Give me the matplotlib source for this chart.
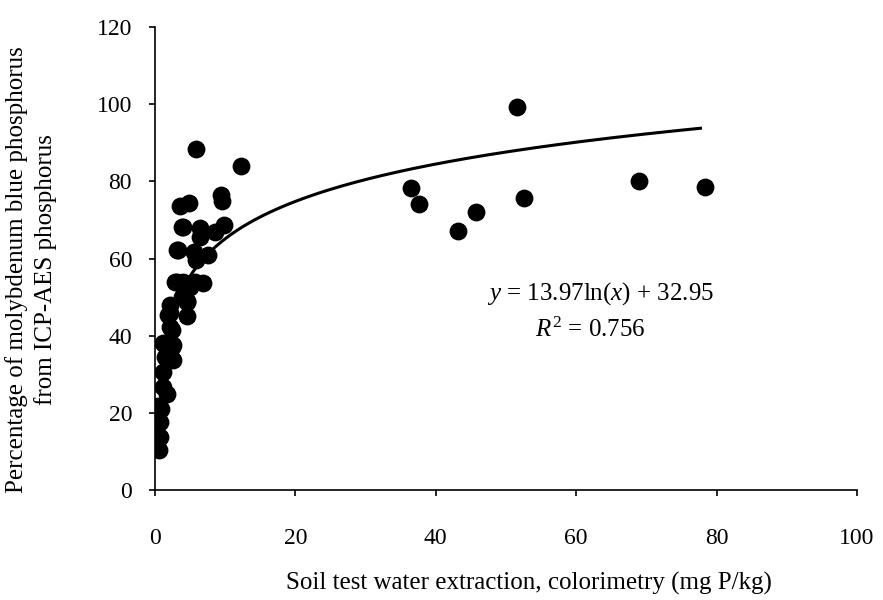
import numpy as np
import matplotlib
matplotlib.use("Agg")
import matplotlib.pyplot as plt

# soil test water extraction (mg P/kg) vs % molybdenum-blue P of ICP-AES P
soil_p = [0.5, 0.9, 0.7, 0.7, 0.6, 1.2, 1.7, 1.2, 1.4, 2.6, 1.4, 2.4,
          1.2, 2.6, 2.1, 2.4, 1.9, 2.1, 4.5, 4.5, 2.1, 3.8, 4.6,
          2.8, 3.1, 4.0, 5.0, 5.7, 6.9, 3.3, 3.1, 5.5, 5.9, 7.6,
          3.9, 4.0, 6.4, 6.4, 8.5, 9.9, 3.6, 4.9, 9.4, 9.5, 5.8, 12.2,
          36.4, 37.6, 43.1, 45.7, 51.5, 52.6, 69.0, 78.3]
pct_moly = [21.8, 21.0, 17.7, 13.8, 10.5, 26.8, 25.0, 30.6, 34.5, 33.7, 37.6, 37.1,
            38.0, 37.6, 42.3, 41.5, 45.3, 47.9, 48.8, 45.0, 45.8, 50.1, 49.0,
            54.0, 54.0, 54.0, 52.7, 54.0, 53.7, 62.3, 62.2, 61.7, 59.6, 60.9,
            68.2, 68.2, 67.8, 65.6, 66.9, 68.6, 73.7, 74.3, 76.4, 74.8, 88.3, 84.0,
            78.2, 74.1, 67.1, 72.0, 99.3, 75.7, 80.1, 78.6]

# log fit from the chart
fit_a, fit_b = 13.97, 32.95
fit_x = np.linspace(3.5, 77.7, 200)
fit_y = fit_a * np.log(fit_x) + fit_b

x_ticks = [0, 20, 40, 60, 80, 100]
y_ticks = [0, 20, 40, 60, 80, 100, 120]

plt.rcParams["font.family"] = ["Liberation Serif", "DejaVu Serif"]
plt.rcParams["mathtext.fontset"] = "custom"
plt.rcParams["mathtext.rm"] = "Liberation Serif"
plt.rcParams["mathtext.it"] = "Liberation Serif:italic"

fig = plt.figure(figsize=(8.83, 6), dpi=100)
ax = fig.add_axes([0.1755, 0.1833, 0.7951, 0.7717])

ax.scatter(soil_p, pct_moly, s=165, color="black", zorder=3, linewidths=0)
ax.plot(fit_x, fit_y, color="black", lw=2.2, zorder=2)

ax.set_xlim(0, 100)
ax.set_ylim(0, 120)
ax.set_xticks(x_ticks)
ax.set_yticks(y_ticks)
ax.spines["top"].set_visible(False)
ax.spines["right"].set_visible(False)
ax.spines["left"].set_linewidth(1.2)
ax.spines["bottom"].set_linewidth(1.2)
ax.tick_params(axis="y", direction="out", length=4.5, width=1.2, labelsize=17, pad=12)
ax.tick_params(axis="x", direction="out", length=4.5, width=1.2, labelsize=17, pad=23)

fig.text(529 / 883, 1 - 583 / 600, "Soil test water extraction, colorimetry (mg P/kg)",
         fontsize=18, ha="center", va="center")
fig.text(31 / 883, 1 - 270 / 600,
         "Percentage of molybdenum blue phosphorus\nfrom ICP-AES phosphorus",
         fontsize=18, rotation=90, ha="center", va="center",
         multialignment="center", linespacing=1.3)

ax.text(63.4, 50.8, r"$\it{y}$ = 13.97ln($\it{x}$) + 32.95", fontsize=18,
        ha="center", va="center")
ax.text(62.0, 41.5, r"$\it{R}^{2}$ = 0.756", fontsize=18, ha="center", va="center")

fig.savefig("out.png", dpi=100)
